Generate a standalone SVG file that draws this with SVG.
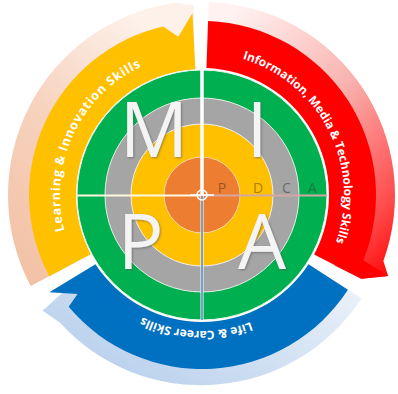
<svg xmlns="http://www.w3.org/2000/svg" width="398" height="394" viewBox="0 0 398 394">
  <defs>
    <linearGradient id="gPeach" x1="0" y1="1" x2="0.6" y2="0">
      <stop offset="0" stop-color="#f2bfa2"/>
      <stop offset="0.55" stop-color="#f7d3bf"/>
      <stop offset="1" stop-color="#fdf1ea"/>
    </linearGradient>
    <linearGradient id="gPink" x1="0.2" y1="0" x2="0.9" y2="1">
      <stop offset="0" stop-color="#fff2f0"/>
      <stop offset="0.45" stop-color="#f9b3b0"/>
      <stop offset="0.85" stop-color="#ff4a4a"/>
      <stop offset="1" stop-color="#ff1010"/>
    </linearGradient>
    <linearGradient id="gSky" x1="1" y1="0" x2="0" y2="0.6">
      <stop offset="0" stop-color="#eef3fa"/>
      <stop offset="0.5" stop-color="#d3e2f3"/>
      <stop offset="1" stop-color="#b9d0ec"/>
    </linearGradient>
    <filter id="shadow" x="-20%" y="-20%" width="140%" height="140%">
      <feDropShadow dx="1" dy="1" stdDeviation="0.8" flood-color="#555" flood-opacity="0.6"/>
    </filter>
    <path id="tpLearn" d="M110.72,303.78 A142,142 0 0 1 226.66,55.16"/>
    <path id="tpInfo" d="M172.48,56.10 A142,142 0 0 1 297.02,300.53"/>
    <path id="tpLife" d="M331.71,235.80 A136,136 0 0 1 69.22,224.44"/>
  </defs>
  <style>
    .band-text { font-family: "Open Sans", "Liberation Sans", sans-serif; font-weight: 700; fill: #ffffff; }
    .big { font-family: "Open Sans", "Liberation Sans", sans-serif; font-size: 76px; fill: #f4f4f4; text-anchor: middle; filter: url(#shadow); }
    .pdca { font-family: "Open Sans", "Liberation Sans", sans-serif; font-size: 14px; font-weight: 400; text-anchor: middle; }
  </style>

  <rect width="398" height="394" fill="#ffffff"/>

  <!-- Learning & Innovation Skills arrow -->
  <g id="arrow-learning">
    <path d="M69.56,265.43 L30.72,286.08 A194,194 0 0 1 175.0,2.89 L193.71,5.18 L194.15,45.21 A150,150 0 0 0 69.56,265.43 Z" fill="url(#gPeach)"/>
    <path d="M90.75,254.16 L49.26,276.22 A173,173 0 0 1 163.08,26.43 L178.35,36.76 L192.47,13.25 L195.41,69.17 A126,126 0 0 0 90.75,254.16 Z" fill="#ffc000"/>
    <text class="band-text" font-size="12.5" fill="#fff6dc"><textPath href="#tpLearn" startOffset="50%" text-anchor="middle" textLength="196" lengthAdjust="spacing">Learning &amp; Innovation Skills</textPath></text>
  </g>

  <!-- Information, Media & Technology Skills arrow -->
  <g id="arrow-information">
    <path d="M207.23,45.09 L208.74,2.12 A193,193 0 0 1 383.36,261.01 L388.16,275.95 L361.37,278.67 L334.44,265.42 A150,150 0 0 0 207.23,45.09 Z" fill="url(#gPink)"/>
    <path d="M206.43,68.08 L208.07,21.11 A174,174 0 0 1 363.33,260.18 L388.16,275.95 L361.37,278.67 L314.13,254.62 A127,127 0 0 0 206.43,68.08 Z" fill="#ff0000"/>
    <text class="band-text" font-size="11.8"><textPath href="#tpInfo" startOffset="50%" text-anchor="middle">Information, Media &amp; Technology Skills</textPath></text>
  </g>

  <!-- Life & Career Skills arrow -->
  <g id="arrow-life">
    <path d="M327.80,276.70 L361.35,298.48 A191,191 0 0 1 60.06,322.80 L42.62,310.79 L77.64,278.88 A150,150 0 0 0 327.80,276.70 Z" fill="url(#gSky)"/>
    <path d="M308.51,264.17 L347.93,289.77 A174,174 0 0 1 68.71,306.85 L77.56,293.98 L49.35,292.25 L95.49,264.17 A127,127 0 0 0 308.51,264.17 Z" fill="#0070c0"/>
    <text class="band-text" font-size="12"><textPath href="#tpLife" startOffset="50%" text-anchor="middle">Life &amp; Career Skills</textPath></text>
  </g>

  <!-- Concentric rings -->
  <g id="rings">
    <circle cx="202" cy="195" r="125" fill="#00b050" stroke="#e8f5ec" stroke-width="1"/>
    <circle cx="202" cy="195" r="97" fill="#a5a5a5" stroke="#e6efe6" stroke-width="1"/>
    <circle cx="202" cy="195" r="71" fill="#ffc000" stroke="#f0f0f0" stroke-width="1"/>
    <circle cx="202" cy="195" r="38" fill="#ed7d31" stroke="#fbd9a0" stroke-width="1"/>
  </g>

  <!-- Quadrant dividers -->
  <g id="dividers">
    <line x1="77" y1="195.5" x2="202" y2="195.5" stroke="#fff8e0" stroke-width="2.2"/>
    <line x1="202" y1="195.5" x2="327" y2="195.5" stroke="#d4a7a2" stroke-width="2"/>
    <line x1="202" y1="320" x2="202" y2="195" stroke="#ffffff" stroke-width="3"/>
    <line x1="202" y1="320" x2="202" y2="195" stroke="#3d78b8" stroke-width="1.4"/>
    <line x1="202" y1="70" x2="202" y2="195" stroke="#ffffff" stroke-width="3.5"/>
    <line x1="190" y1="195" x2="214" y2="195" stroke="#ffffff" stroke-width="1.6"/>
    <circle cx="202" cy="195" r="5" fill="none" stroke="#ffffff" stroke-width="1.6"/>
  </g>

  <!-- MIPA letters -->
  <g id="letters">
    <text class="big" x="154" y="157">M</text>
    <text class="big" x="257" y="157">I</text>
    <text class="big" x="140.5" y="269">P</text>
    <text class="big" x="262" y="269">A</text>
  </g>

  <!-- PDCA -->
  <g id="pdca">
    <text class="pdca" x="222" y="193" fill="#9a5424">P</text>
    <text class="pdca" x="258" y="193" fill="#a98012">D</text>
    <text class="pdca" x="286.5" y="193" fill="#6a6a6a">C</text>
    <text class="pdca" x="312.5" y="193" fill="#1f7a40">A</text>
  </g>
</svg>
